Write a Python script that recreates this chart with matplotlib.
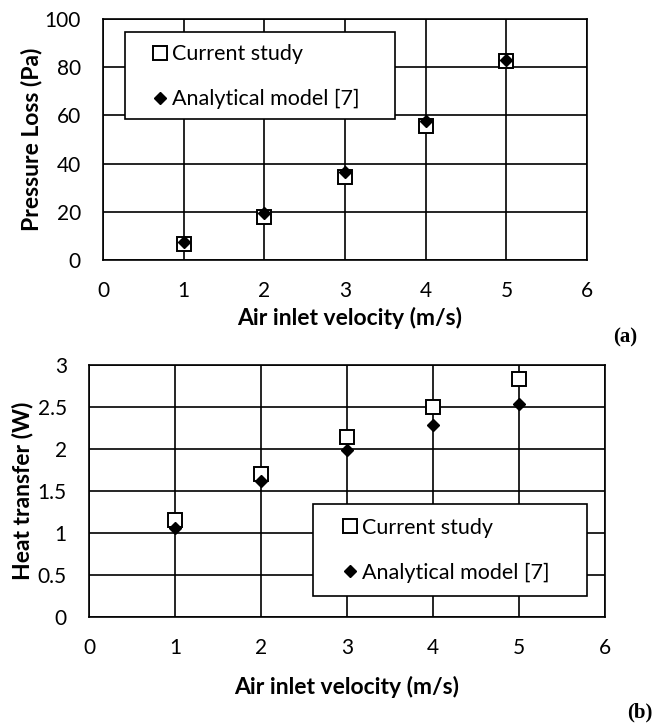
import matplotlib.pyplot as plt
from matplotlib.patches import Rectangle

# Data
velocity = [1, 2, 3, 4, 5]
pressure_current = [6.5, 18, 34.6, 55.8, 82.4]
pressure_analytical = [7.3, 19.7, 36.4, 57.8, 82.8]
heat_current = [1.15, 1.70, 2.14, 2.50, 2.83]
heat_analytical = [1.065, 1.62, 1.99, 2.28, 2.53]

x_ticks = [0, 1, 2, 3, 4, 5, 6]
pressure_ticks = [0, 20, 40, 60, 80, 100]
heat_ticks = [0, 0.5, 1, 1.5, 2, 2.5, 3]
heat_tick_labels = ['0', '0.5', '1', '1.5', '2', '2.5', '3']

plt.rcParams['font.family'] = ['Lato', 'DejaVu Sans']

fig = plt.figure(figsize=(6.57, 7.23), dpi=100)


def style_axes(ax, yticks, ylabels=None):
    ax.set_xlim(0, 6)
    ax.set_xticks(x_ticks)
    ax.set_yticks(yticks)
    if ylabels is not None:
        ax.set_yticklabels(ylabels)
    ax.set_ylim(yticks[0], yticks[-1])
    ax.grid(True, color='black', linewidth=1.2)
    ax.set_axisbelow(True)
    for s in ax.spines.values():
        s.set_color('black')
        s.set_linewidth(1.2)
    ax.tick_params(length=0, labelsize=15)
    ax.tick_params(axis='x', pad=15)
    ax.tick_params(axis='y', pad=16)


def draw_points(ax, cur, ana):
    ax.plot(velocity, cur, linestyle='none', marker='s', markersize=10,
            markerfacecolor='white', markeredgecolor='black', markeredgewidth=1.4,
            label='Current study', zorder=4)
    ax.plot(velocity, ana, linestyle='none', marker='D', markersize=6.5,
            color='black', label='Analytical model [7]', zorder=5)


def draw_legend(ax, box, anchor):
    ax.add_patch(Rectangle((box[0], box[1]), box[2], box[3], transform=ax.transAxes,
                           facecolor='white', edgecolor='black', linewidth=1.2,
                           zorder=6, clip_on=False))
    leg = ax.legend(loc='upper left', bbox_to_anchor=anchor, frameon=False,
                    fontsize=15.5, handlelength=0.8, handletextpad=0.15,
                    borderpad=0, borderaxespad=0, labelspacing=1.15)
    leg.set_zorder(7)


# (a) pressure loss
ax1 = fig.add_axes([0.1568, 0.6404, 0.7367, 0.3333])
draw_points(ax1, pressure_current, pressure_analytical)
style_axes(ax1, pressure_ticks)
ax1.set_xlabel('Air inlet velocity (m/s)', fontsize=16.5, fontweight='bold')
ax1.set_ylabel('Pressure Loss (Pa)', fontsize=16.5, fontweight='bold')
ax1.xaxis.set_label_coords(0.51, -0.195)
ax1.yaxis.set_label_coords(-0.126, 0.5)
draw_legend(ax1, (0.0455, 0.585, 0.558, 0.361), (0.100, 0.895))

# (b) heat transfer
ax2 = fig.add_axes([0.1355, 0.1466, 0.785, 0.3486])
draw_points(ax2, heat_current, heat_analytical)
style_axes(ax2, heat_ticks, heat_tick_labels)
ax2.set_xlabel('Air inlet velocity (m/s)', fontsize=16.5, fontweight='bold')
ax2.set_ylabel('Heat transfer (W)', fontsize=16.5, fontweight='bold')
ax2.xaxis.set_label_coords(0.5, -0.234)
ax2.yaxis.set_label_coords(-0.107, 0.5)
draw_legend(ax2, (0.434, 0.083, 0.531, 0.365), (0.490, 0.394))

fig.text(625 / 657, 1 - 337 / 723, '(a)', fontsize=15, fontweight='bold',
         family='Liberation Serif', ha='center', va='center')
fig.text(640 / 657, 1 - 712 / 723, '(b)', fontsize=15, fontweight='bold',
         family='Liberation Serif', ha='center', va='center')

fig.savefig('out.png', dpi=100)
